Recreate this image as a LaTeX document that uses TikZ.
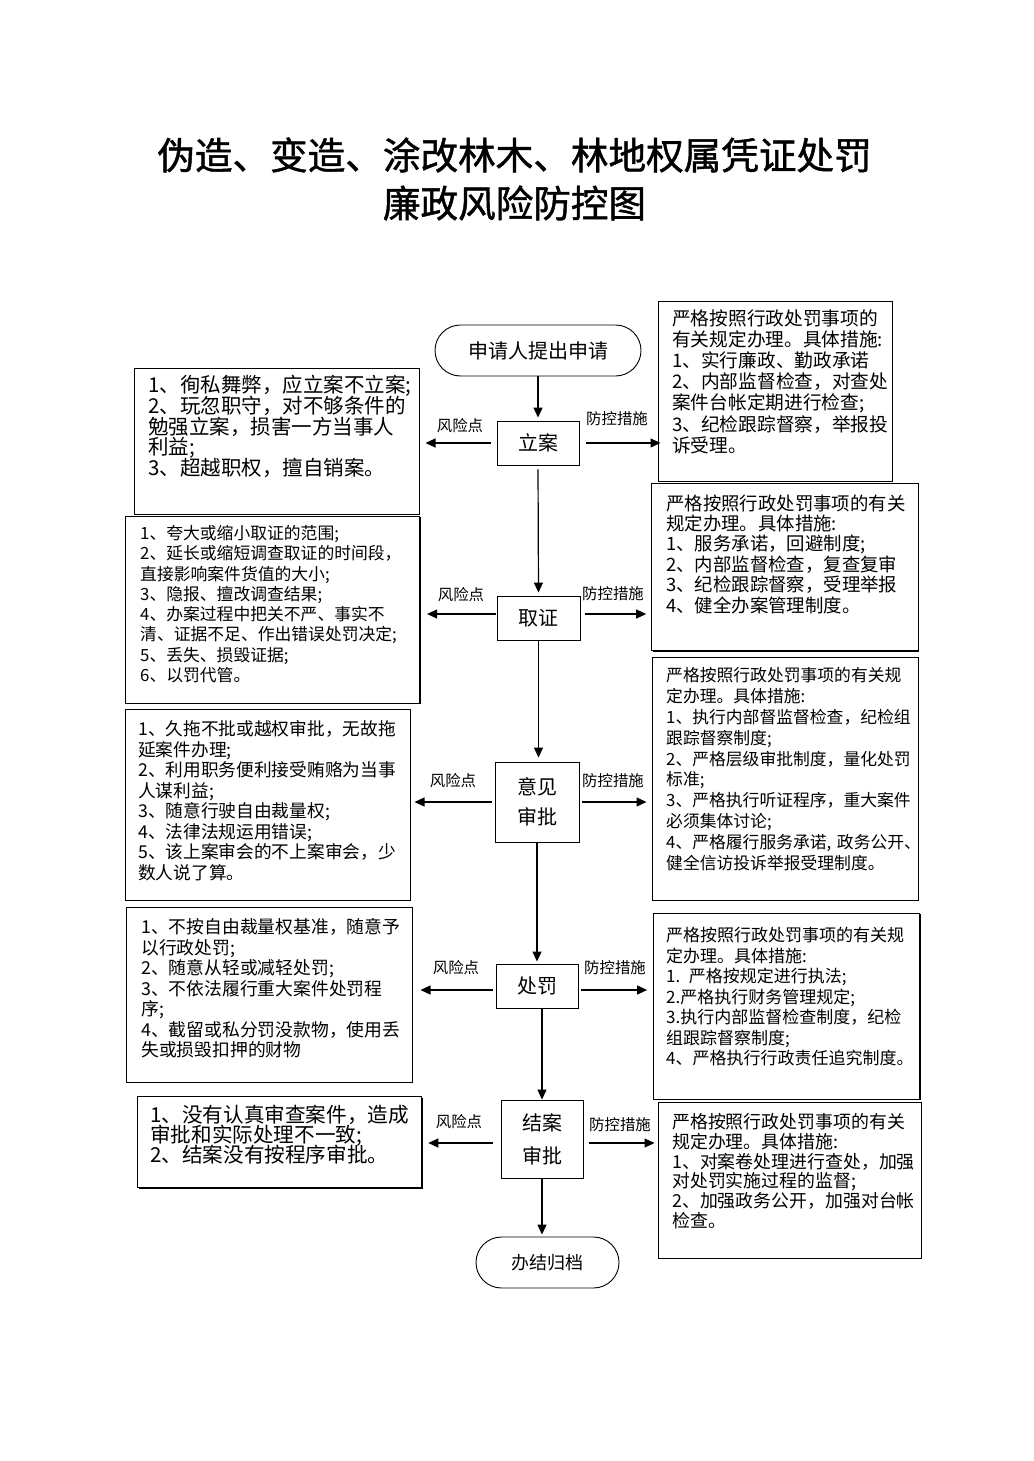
\documentclass[tikz,border=0pt]{standalone}
\usepackage{fontspec}
\setmainfont{Noto Sans CJK SC}
\newfontfamily\titlefont[FakeBold=1.2]{Noto Sans CJK SC}
\usetikzlibrary{arrows.meta,shapes.misc,shadows,calc}
\newcommand{\myfs}[2]{\fontsize{#1pt}{#2pt}\selectfont\lineskiplimit=-50pt\relax}
\begin{document}
\begin{tikzpicture}[x=1pt,y=-1pt,
  sbox/.style={draw, line width=1pt, fill=white, inner sep=0pt,
    drop shadow={shadow xshift=1.2pt, shadow yshift=-1.2pt, fill=black, opacity=1}},
  proc/.style={draw, line width=0.9pt, inner sep=0pt, align=center, font=\myfs{20}{30}},
  term/.style={draw, rounded rectangle, line width=0.9pt, inner sep=0pt},
  arr/.style={line width=1.2pt, -{Triangle[length=10pt,width=9pt]}},
  lbl/.style={font=\myfs{15.4}{16}, inner sep=0pt},
  txt/.style={anchor=base west, inner sep=0pt, align=left, text width=290pt}
]
\useasboundingbox[fill=white] (0,0) rectangle (1033,1461);

% title
\node[font=\titlefont\myfs{37.6}{40}, inner sep=0pt] (title1) at (514.5,155) {伪造、变造、涂改林木、林地权属凭证处罚};
\node[font=\titlefont\myfs{37.6}{40}, inner sep=0pt] (title2) at (514.5,203) {廉政风险防控图};

% main flow
\node[term, minimum width=206, minimum height=51, font=\myfs{20}{22}] (start) at (538,350.5) {申请人提出申请};
\node[proc, minimum width=82, minimum height=44] (lian) at (538,443) {立案};
\node[proc, minimum width=83, minimum height=44] (quzheng) at (538.5,618) {取证};
\node[proc, minimum width=84, minimum height=80] (yijian) at (537,802) {意见\\审批};
\node[proc, minimum width=82, minimum height=44] (chufa) at (537,986) {处罚};
\node[proc, minimum width=82, minimum height=78, font=\myfs{20}{33}] (jiean) at (542,1139) {结案\\审批};
\node[term, minimum width=143, minimum height=51, font=\myfs{18}{20}] (end) at (547.5,1262.5) {办结归档};

% side boxes
\node[sbox, minimum width=285, minimum height=146] (L1) at (276.5,441) {};
\node[sbox, minimum width=234, minimum height=180] (R1) at (775,391) {};
\node[sbox, minimum width=294.6, minimum height=187] (L2) at (272.3,609.5) {};
\node[sbox, minimum width=266.3, minimum height=167.7] (R2) at (784.85,566.85) {};
\node[sbox, minimum width=285, minimum height=191] (L3) at (267.5,804.5) {};
\node[sbox, minimum width=266, minimum height=242.5] (R3) at (785,778.75) {};
\node[sbox, minimum width=286, minimum height=175] (L4) at (269,994.5) {};
\node[sbox, minimum width=266, minimum height=186] (R4) at (786.6,1006) {};
\node[sbox, minimum width=284.1, minimum height=91] (L5) at (279.75,1142.2) {};
\node[sbox, minimum width=263, minimum height=155.5] (R5) at (789.5,1180.25) {};

% side texts
\node[txt, font=\myfs{20.5}{20.7}] (L1t) at (148,392.8) {1、徇私舞弊，应立案不立案;\\2、玩忽职守，对不够条件的\\勉强立案，损害一方当事人\\利益;\\3、超越职权，擅自销案。};
\node[txt, font=\myfs{18.7}{21.2}] (R1t) at (672,325.1) {严格按照行政处罚事项的\\有关规定办理。具体措施:\\1、实行廉政、勤政承诺\\2、内部监督检查，对查处\\案件台帐定期进行检查;\\3、纪检跟踪督察，举报投\\诉受理。};
\node[txt, font=\myfs{16.8}{20.3}] (L2t) at (140,539.4) {1、夸大或缩小取证的范围;\\2、延长或缩短调查取证的时间段，\\直接影响案件货值的大小;\\3、隐报、擅改调查结果;\\4、办案过程中把关不严、事实不\\清、证据不足、作出错误处罚决定;\\5、丢失、损毁证据;\\6、以罚代管。};
\node[txt, font=\myfs{18.4}{20.4}] (R2t) at (666,510) {严格按照行政处罚事项的有关\\规定办理。具体措施:\\1、服务承诺，回避制度;\\2、内部监督检查，复查复审\\3、纪检跟踪督察，受理举报\\4、健全办案管理制度。};
\node[txt, font=\myfs{17.7}{20.5}] (L3t) at (138,735.7) {1、久拖不批或越权审批，无故拖\\延案件办理;\\2、利用职务便利接受贿赂为当事\\人谋利益;\\3、随意行驶自由裁量权;\\4、法律法规运用错误;\\5、该上案审会的不上案审会，少\\数人说了算。};
\node[txt, font=\myfs{16.8}{20.9}] (R3t) at (666,681.4) {严格按照行政处罚事项的有关规\\定办理。具体措施:\\1、执行内部督监督检查，纪检组\\跟踪督察制度;\\2、严格层级审批制度，量化处罚\\标准;\\3、严格执行听证程序，重大案件\\必须集体讨论;\\4、严格履行服务承诺, 政务公开、\\健全信访投诉举报受理制度。};
\node[txt, font=\myfs{17.8}{20.5}] (L4t) at (141,933.8) {1、不按自由裁量权基准，随意予\\以行政处罚;\\2、随意从轻或减轻处罚;\\3、不依法履行重大案件处罚程\\序;\\4、截留或私分罚没款物，使用丢\\失或损毁扣押的财物};
\node[txt, font=\myfs{17}{20.5}] (R4t) at (666,941.5) {严格按照行政处罚事项的有关规\\定办理。具体措施:\\1. 严格按规定进行执法;\\2.严格执行财务管理规定;\\3.执行内部监督检查制度，纪检\\组跟踪督察制度;\\4、严格执行行政责任追究制度。};
\node[txt, font=\myfs{20.6}{20}] (L5t) at (150,1122.8) {1、没有认真审查案件，造成\\审批和实际处理不一致;\\2、结案没有按程序审批。};
\node[txt, font=\myfs{17.9}{19.8}] (R5t) at (672,1128.5) {严格按照行政处罚事项的有关\\规定办理。具体措施:\\1、对案卷处理进行查处，加强\\对处罚实施过程的监督;\\2、加强政务公开，加强对台帐\\检查。};

% vertical arrows
\draw[arr, shorten >=3pt] (start.south) -- (lian.north);
\draw[arr, shorten <=4pt, shorten >=3pt] (lian.south) -- (quzheng.north);
\draw[arr, shorten >=4pt] (quzheng.south) -- (quzheng.south |- yijian.north);
\draw[arr, shorten >=2pt] (yijian.south) -- (yijian.south |- chufa.north);
\draw[arr] (chufa.south -| jiean.north) -- (jiean.north);
\draw[arr, shorten >=2pt] (jiean.south) -- (jiean.south |- end.north);

% horizontal arrows
\draw[arr, shorten <=6pt, shorten >=6pt] (lian.west) -- (lian.west -| L1.east);
\draw[arr, shorten <=7pt, shorten >=-3pt] (lian.east) -- (lian.east -| R1.west);
\draw[arr, shorten <=1pt, shorten >=7pt] ([yshift=4pt]quzheng.west) -- ([yshift=4pt]quzheng.west -| L2.east);
\draw[arr, shorten <=5pt, shorten >=5pt] ([yshift=4pt]quzheng.east) -- ([yshift=4pt]quzheng.east -| R2.west);
\draw[arr, shorten <=3pt, shorten >=4pt] (yijian.west) -- (yijian.west -| L3.east);
\draw[arr, shorten <=3pt, shorten >=5pt] (yijian.east) -- (yijian.east -| R3.west);
\draw[arr, shorten <=3pt, shorten >=8pt] ([yshift=-4pt]chufa.west) -- ([yshift=-4pt]chufa.west -| L4.east);
\draw[arr, shorten <=3pt, shorten >=6pt] ([yshift=-4pt]chufa.east) -- ([yshift=-4pt]chufa.east -| R4.west);
\draw[arr, shorten <=8pt, shorten >=6pt] ([yshift=-4pt]jiean.west) -- ([yshift=-4pt]jiean.west -| L5.east);
\draw[arr, shorten <=6pt, shorten >=3pt] ([yshift=-4pt]jiean.east) -- ([yshift=-4pt]jiean.east -| R5.west);

% labels
\node[lbl] (k1) at (460,426) {风险点};
\node[lbl] (f1) at (617,419) {防控措施};
\node[lbl] (k2) at (461,595) {风险点};
\node[lbl] (f2) at (613,594) {防控措施};
\node[lbl] (k3) at (453,781) {风险点};
\node[lbl] (f3) at (613,781) {防控措施};
\node[lbl] (k4) at (456,968) {风险点};
\node[lbl] (f4) at (615,968) {防控措施};
\node[lbl] (k5) at (459,1122) {风险点};
\node[lbl] (f5) at (620,1125) {防控措施};
\end{tikzpicture}
\end{document}
